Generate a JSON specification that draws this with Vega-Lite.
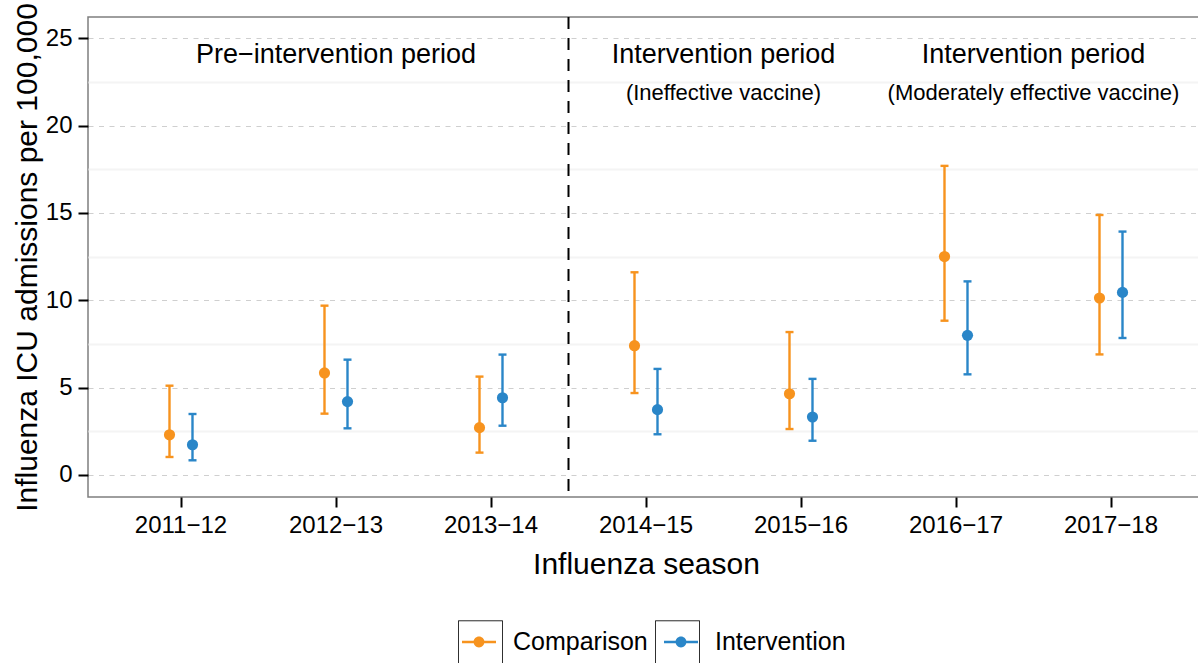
{
  "$schema": "https://vega.github.io/schema/vega-lite/v6.json",
  "width": 1116,
  "height": 480,
  "autosize": {"type": "none"},
  "padding": {"left": 88, "top": 17, "right": 0, "bottom": 166},
  "background": "white",
  "config": {
    "font": "Liberation Sans",
    "view": {"stroke": "#7f7f7f", "strokeWidth": 1.5},
    "axis": {"labelColor": "black", "titleColor": "black", "titleFontWeight": "normal"}
  },
  "datasets": {
    "est": [
      {"season": "2011−12", "group": "Comparison", "est": 2.3, "lower": 1.03, "upper": 5.11},
      {"season": "2011−12", "group": "Intervention", "est": 1.73, "lower": 0.84, "upper": 3.49},
      {"season": "2012−13", "group": "Comparison", "est": 5.84, "lower": 3.51, "upper": 9.69},
      {"season": "2012−13", "group": "Intervention", "est": 4.2, "lower": 2.67, "upper": 6.6},
      {"season": "2013−14", "group": "Comparison", "est": 2.71, "lower": 1.28, "upper": 5.63},
      {"season": "2013−14", "group": "Intervention", "est": 4.42, "lower": 2.82, "upper": 6.89},
      {"season": "2014−15", "group": "Comparison", "est": 7.4, "lower": 4.69, "upper": 11.6},
      {"season": "2014−15", "group": "Intervention", "est": 3.74, "lower": 2.33, "upper": 6.07},
      {"season": "2015−16", "group": "Comparison", "est": 4.65, "lower": 2.63, "upper": 8.18},
      {"season": "2015−16", "group": "Intervention", "est": 3.32, "lower": 1.96, "upper": 5.5},
      {"season": "2016−17", "group": "Comparison", "est": 12.5, "lower": 8.83, "upper": 17.69},
      {"season": "2016−17", "group": "Intervention", "est": 7.99, "lower": 5.76, "upper": 11.08},
      {"season": "2017−18", "group": "Comparison", "est": 10.13, "lower": 6.9, "upper": 14.88},
      {"season": "2017−18", "group": "Intervention", "est": 10.45, "lower": 7.84, "upper": 13.93}
    ]
  },
  "resolve": {"axis": {"y": "independent"}},
  "layer": [
    {
      "data": {"values": [{"season": "2014−15"}]},
      "mark": {"type": "rule", "color": "black", "strokeWidth": 2, "strokeDash": [12, 9]},
      "encoding": {
        "x": {"field": "season", "type": "nominal", "bandPosition": 0,
              "scale": {"domain": ["2011−12","2012−13","2013−14","2014−15","2015−16","2016−17","2017−18"], "paddingInner": 0, "paddingOuter": 0.1},
              "axis": {"title": "Influenza season", "titleFontSize": 30, "titlePadding": 12, "labelFontSize": 24, "labelPadding": 6, "labelAngle": 0, "tickColor": "black", "tickSize": 10, "tickWidth": 2, "domain": false, "grid": false}}
      }
    },
    {
      "data": {"name": "est"},
      "mark": {"type": "rule", "strokeWidth": 2.4, "opacity": 1},
      "encoding": {
        "x": {"field": "season", "type": "nominal"},
        "xOffset": {"field": "group", "type": "nominal", "scale": {"range": [54.5, 100.5], "paddingInner": 0, "paddingOuter": 0}},
        "y": {"field": "lower", "type": "quantitative",
              "scale": {"domain": [-1.26, 26.21], "nice": false, "zero": false},
              "axis": {"orient": "right", "values": [2.5, 7.5, 12.5, 17.5, 22.5], "labels": false, "ticks": false, "domain": false, "title": null, "grid": true, "gridColor": "#f4f4f4", "gridWidth": 2}},
        "y2": {"field": "upper"},
        "color": {"field": "group", "type": "nominal", "scale": {"domain": ["Comparison", "Intervention"], "range": ["#F7931E", "#2A86C8"]}},
        "strokeDash": {"field": "group", "type": "nominal", "scale": {"range": [[1, 0], [1, 0]]},
                       "legend": {"title": null, "orient": "none", "direction": "horizontal", "legendX": 370, "legendY": 603,
                                  "symbolType": "square", "symbolSize": 1936, "symbolStrokeColor": "black", "symbolFillColor": "transparent", "symbolStrokeWidth": 1, "symbolOpacity": 1,
                                  "labelExpr": "''", "labelFontSize": 25, "labelOffset": 7, "columnPadding": 143}}
      }
    },
    {
      "data": {"name": "est"},
      "mark": {"type": "tick", "size": 8, "thickness": 2.4, "opacity": 1},
      "encoding": {
        "x": {"field": "season", "type": "nominal"},
        "xOffset": {"field": "group", "type": "nominal"},
        "y": {"field": "lower", "type": "quantitative", "axis": null},
        "color": {"field": "group", "type": "nominal"}
      }
    },
    {
      "data": {"name": "est"},
      "mark": {"type": "tick", "size": 8, "thickness": 2.4, "opacity": 1},
      "encoding": {
        "x": {"field": "season", "type": "nominal"},
        "xOffset": {"field": "group", "type": "nominal"},
        "y": {"field": "upper", "type": "quantitative", "axis": null},
        "color": {"field": "group", "type": "nominal"}
      }
    },
    {
      "data": {"name": "est"},
      "mark": {"type": "point", "filled": true, "size": 125, "opacity": 1},
      "encoding": {
        "x": {"field": "season", "type": "nominal"},
        "xOffset": {"field": "group", "type": "nominal"},
        "y": {"field": "est", "type": "quantitative",
              "axis": {"title": "Influenza ICU admissions per 100,000", "titleFontSize": 30, "titlePadding": 3, "values": [0, 5, 10, 15, 20, 25], "labelFontSize": 24, "labelPadding": 6, "tickColor": "black", "tickSize": 10, "tickWidth": 2, "domain": false, "grid": true, "gridColor": "#cfcfcf", "gridWidth": 1.2, "gridDash": [5, 5.5]}},
        "color": {"field": "group", "type": "nominal",
                  "legend": {"title": null, "orient": "none", "direction": "horizontal", "legendX": 374, "legendY": 608,
                             "symbolType": "M-1,-0.07H1V0.07H-1Z M0.32,0A0.32,0.32,0,1,1,-0.32,0A0.32,0.32,0,1,1,0.32,0Z",
                             "symbolSize": 1156, "symbolStrokeWidth": 0, "symbolOpacity": 1, "labelFontSize": 25, "labelOffset": 17, "columnPadding": 16, "labelColor": "black"}}
      }
    },
    {
      "data": {"values": [{"season": "2012−13", "label": "Pre−intervention period"}]},
      "mark": {"type": "text", "fontSize": 27, "color": "black", "baseline": "middle"},
      "encoding": {
        "x": {"field": "season", "type": "nominal"},
        "y": {"datum": 24.06, "type": "quantitative", "axis": null},
        "text": {"field": "label"}
      }
    },
    {
      "data": {"values": [{"season": "2015−16", "label": "Intervention period"}, {"season": "2017−18", "label": "Intervention period"}]},
      "mark": {"type": "text", "fontSize": 27, "color": "black", "baseline": "middle"},
      "encoding": {
        "x": {"field": "season", "type": "nominal", "bandPosition": 0},
        "y": {"datum": 24.06, "type": "quantitative", "axis": null},
        "text": {"field": "label"}
      }
    },
    {
      "data": {"values": [{"season": "2015−16", "label": "(Ineffective vaccine)"}, {"season": "2017−18", "label": "(Moderately effective vaccine)"}]},
      "mark": {"type": "text", "fontSize": 22, "color": "black", "baseline": "middle"},
      "encoding": {
        "x": {"field": "season", "type": "nominal", "bandPosition": 0},
        "y": {"datum": 21.85, "type": "quantitative", "axis": null},
        "text": {"field": "label"}
      }
    }
  ]
}
